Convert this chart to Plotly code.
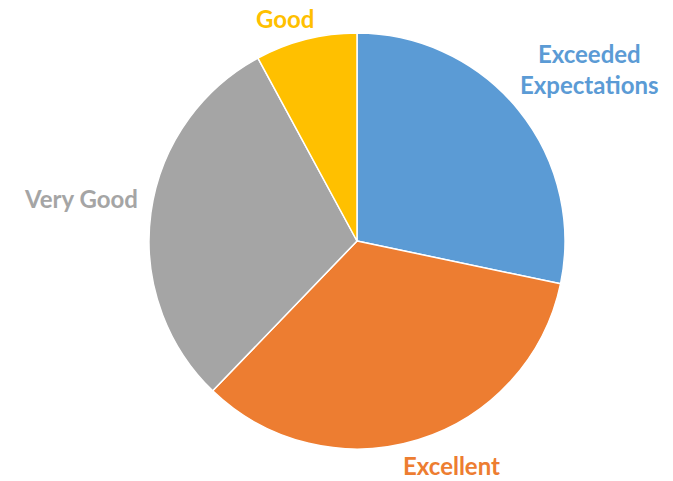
import plotly.graph_objects as go

labels = ["Exceeded Expectations", "Excellent", "Very Good", "Good"]
label_text = ["Exceeded<br>Expectations", "Excellent", "Very Good", "Good"]
values = [28.3, 33.9, 29.9, 7.9]
colors = ["#5B9BD5", "#ED7D31", "#A5A5A5", "#FFC000"]
# label anchor positions (paper coords)
label_x = [1.060, 0.726, -0.163, 0.327]
label_y = [0.913, -0.040, 0.601, 1.036]

fig = go.Figure(go.Pie(
    labels=labels,
    values=values,
    sort=False,
    direction="clockwise",
    rotation=0,
    marker=dict(colors=colors, line=dict(color="white", width=1.5)),
    textinfo="none",
    showlegend=False,
    hoverinfo="label+percent",
))

for t, x, y, c in zip(label_text, label_x, label_y, colors):
    fig.add_annotation(
        text=f"<b>{t}</b>", x=x, y=y, xref="paper", yref="paper",
        xanchor="center", yanchor="middle", showarrow=False, borderpad=0,
        font=dict(family="Lato, Open Sans, sans-serif", size=24, color=c),
    )

fig.update_layout(
    width=673, height=481,
    margin=dict(l=149, r=108, t=33, b=32),
    paper_bgcolor="white",
    plot_bgcolor="white",
)

fig.write_html("out.html")
